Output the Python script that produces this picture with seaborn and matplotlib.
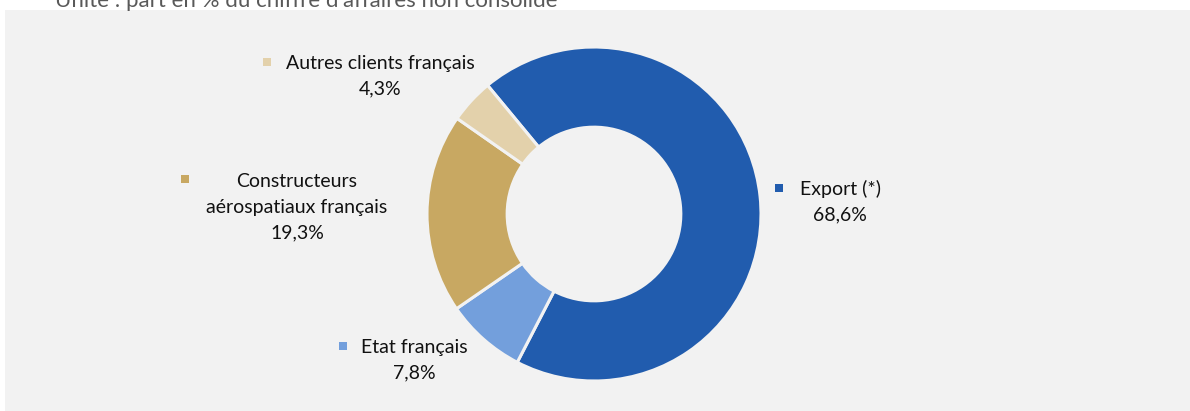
import matplotlib
matplotlib.use("Agg")
import matplotlib.pyplot as plt
from matplotlib.patches import Rectangle
import seaborn as sns

# Data (share of non-consolidated turnover, %)
segments = ["Export (*)", "Etat français", "Constructeurs\naérospatiaux français", "Autres clients français"]
shares = [68.6, 7.8, 19.3, 4.3]
share_labels = ["68,6%", "7,8%", "19,3%", "4,3%"]
colors = ["#215CAE", "#739FDC", "#C8A862", "#E3D1AB"]

# label anchor (pixel centre of first text line) and marker position, layout only
label_pos = [(840, 189), (414, 347), (297, 181), (380, 63)]
marker_pos = [(779, 188), (343, 346), (185, 179), (267, 62)]

sns.set_theme(style="white")
plt.rcParams["font.family"] = ["Lato", "DejaVu Sans"]

W, H = 1190, 411
cx, cy, R = 594, 214, 167

fig = plt.figure(figsize=(W / 100, H / 100), dpi=100)
fig.patch.set_facecolor("white")
fig.patches.append(Rectangle((5 / W, 0), 1 - 5 / W, (H - 10) / H,
                             transform=fig.transFigure, facecolor="#F2F2F2",
                             edgecolor="none", zorder=0))

ax = fig.add_axes([0, 0, 1, 1])
ax.set_zorder(2)
ax.set_facecolor("none")
ax.pie(shares, colors=colors, startangle=129.6, counterclock=False,
       radius=1, wedgeprops=dict(width=0.48, edgecolor="#F2F2F2", linewidth=2.2))
ax.set_aspect("equal")
ax.set_xlim(-cx / R, (W - cx) / R)
ax.set_ylim(-(H - cy) / R, cy / R)
ax.axis("off")


def to_data(px, py):
    return (px - cx) / R, (cy - py) / R


line_h = 26
for name, lab, col, (px, py), (mx, my) in zip(segments, share_labels, colors, label_pos, marker_pos):
    lines = name.split("\n") + [lab]
    for i, t in enumerate(lines):
        x, y = to_data(px, py + i * line_h)
        ax.text(x, y, t, ha="center", va="center", fontsize=14, color="#111111")
    x, y = to_data(mx, my)
    ax.scatter([x], [y], marker="s", s=26, color=col, linewidths=0)

fig.text(55 / W, (H - 7) / H, "Unité : part en % du chiffre d'affaires non consolidé",
         ha="left", va="baseline", fontsize=16, color="#595959")

fig.savefig("out.png", dpi=100)
